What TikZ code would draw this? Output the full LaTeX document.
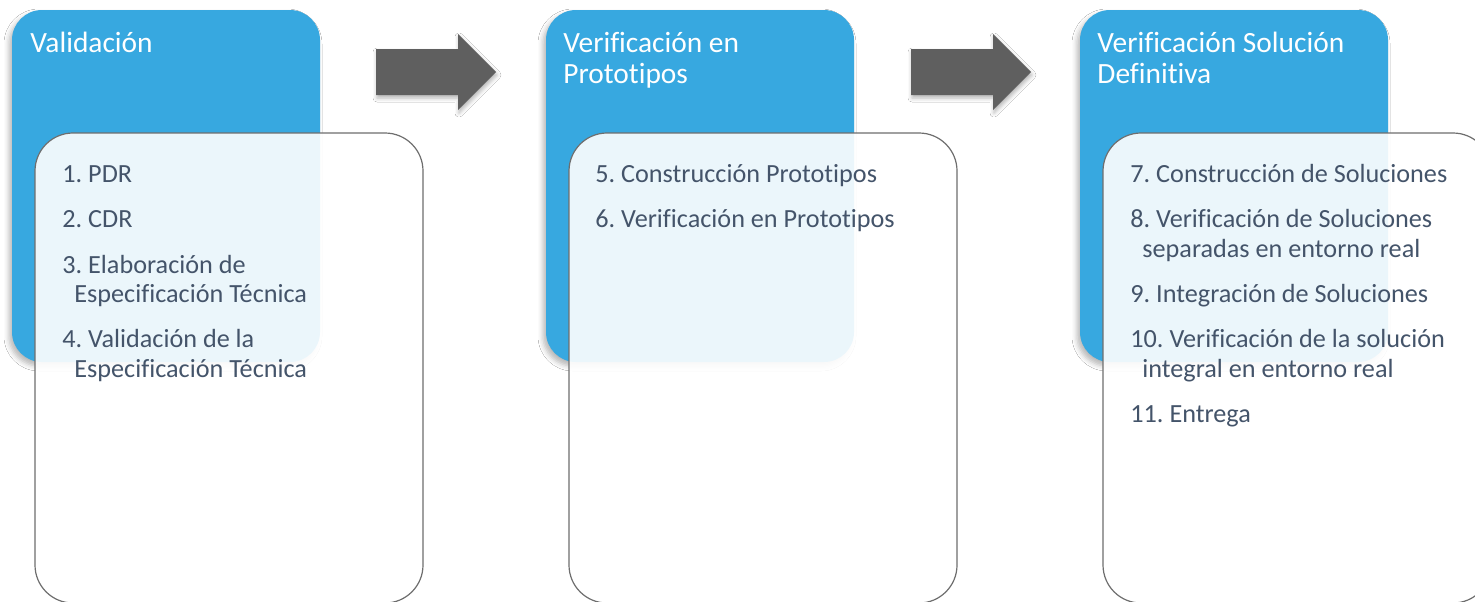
\documentclass[tikz,border=0pt]{standalone}
\usepackage{fontspec}
\setmainfont{Carlito}[Ligatures=NoCommon]
\frenchspacing
\usetikzlibrary{shadows.blur}
\definecolor{blueA}{HTML}{37A8E0}
\definecolor{txt}{HTML}{44546A}
\definecolor{arr}{HTML}{5F5F5F}
\definecolor{edge}{HTML}{6E6E6E}
\tikzset{
  headbox/.style={fill=blueA, rounded corners=15pt,
    blur shadow={shadow xshift=-1.5pt, shadow yshift=-2pt, shadow blur radius=2.5pt, shadow opacity=28}},
  listbox/.style={draw=edge, line width=0.6pt, fill=white, fill opacity=0.9, rounded corners=19pt},
  ttl/.style={anchor=base west, inner sep=0pt, text=white, font=\fontsize{14.7}{15.5}\selectfont},
  itm/.style={anchor=base west, inner sep=0pt, text=txt, font=\fontsize{13.1}{14}\selectfont},
  bigarrow/.style={fill=arr,
    blur shadow={shadow xshift=0.5pt, shadow yshift=-1.5pt, shadow blur radius=2pt, shadow opacity=30}}
}
\begin{document}
\begin{tikzpicture}[x=0.5pt,y=-0.5pt]
\clip (0,0) rectangle (1475,601);
\fill[white] (0,0) rectangle (1475,601);
% block 1
\path[headbox] (12,10) rectangle (320,362);
\path[listbox] (35,133) rectangle (423,603);
\node[ttl] (t1) at (30,52) {Validación};
\node[itm] (i1) at (62,182) {1. PDR};
\node[itm] (i2) at (62,227) {2. CDR};
\node[itm] (i3) at (62,273) {3. Elaboración de};
\node[itm] (i3b) at (74,302) {Especificación Técnica};
\node[itm] (i4) at (62,347) {4. Validación de la};
\node[itm] (i4b) at (74,377) {Especificación Técnica};
% arrow 1
\path[bigarrow] (376,49) -- (458,49) -- (458,34) -- (496,72) -- (458,110) -- (458,95) -- (376,95) -- cycle;
% block 2
\path[headbox] (546,10) rectangle (854,362);
\path[listbox] (569,133) rectangle (957,603);
\node[ttl] (t2a) at (563,52) {Verificación en};
\node[ttl] (t2b) at (563,83) {Prototipos};
\node[itm] (i5) at (595,182) {5. Construcción Prototipos};
\node[itm] (i6) at (595,227) {6. Verificación en Prototipos};
% arrow 2
\path[bigarrow] (911,49) -- (993,49) -- (993,34) -- (1031,72) -- (993,110) -- (993,95) -- (911,95) -- cycle;
% block 3
\path[headbox] (1080,10) rectangle (1388,362);
\path[listbox] (1103,133) rectangle (1491,603);
\node[ttl] (t3a) at (1097,52) {Verificación Solución};
\node[ttl] (t3b) at (1097,83) {Definitiva};
\node[itm] (i7) at (1130,182) {7. Construcción de Soluciones};
\node[itm] (i8) at (1130,227) {8. Verificación de Soluciones};
\node[itm] (i8b) at (1142,257) {separadas en entorno real};
\node[itm] (i9) at (1130,302) {9. Integración de Soluciones};
\node[itm] (i10) at (1130,347) {10. Verificación de la solución};
\node[itm] (i10b) at (1142,377) {integral en entorno real};
\node[itm] (i11) at (1130,422) {11. Entrega};
\end{tikzpicture}
\end{document}
